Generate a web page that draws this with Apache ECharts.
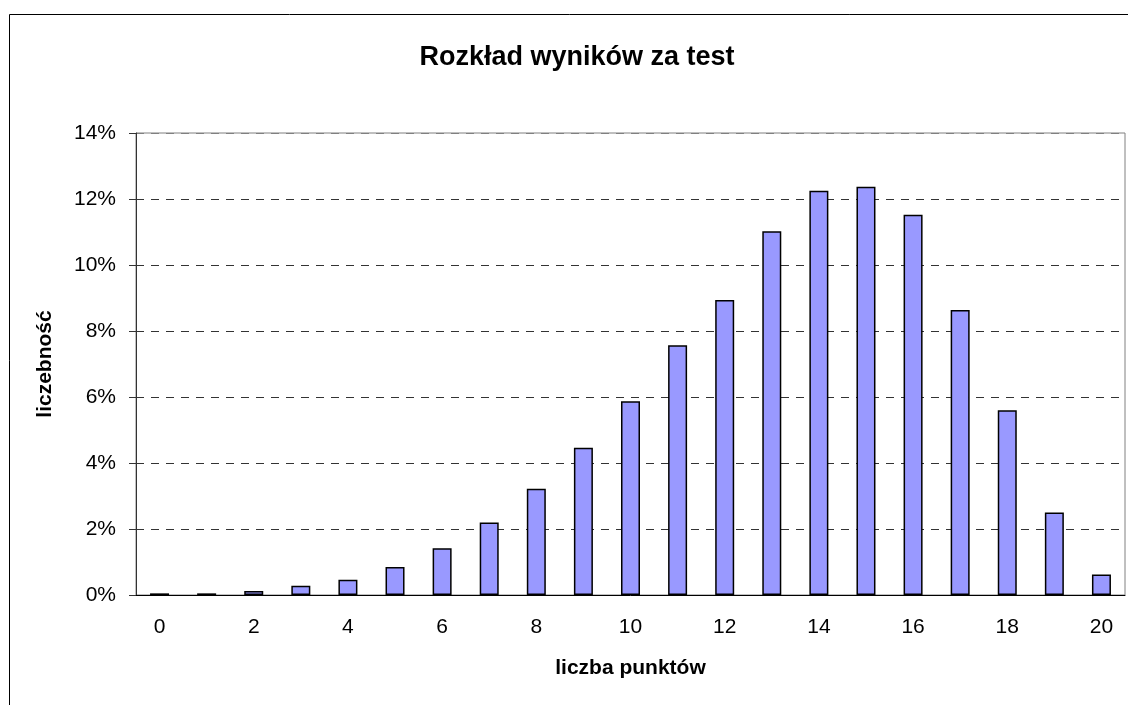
<!DOCTYPE html>
<html lang="pl">
<head>
<meta charset="UTF-8">
<title>Rozkład wyników za test</title>
<script src="https://cdn.jsdelivr.net/npm/echarts@6/dist/echarts.min.js"></script>
<style>
  html, body { margin: 0; padding: 0; background: #fff; }
  #chart { width: 1128px; height: 705px; }
</style>
</head>
<body>
<div id="chart"></div>
<script>
// liczba punktów 0..20
var points = ['0','1','2','3','4','5','6','7','8','9','10','11','12','13','14','15','16','17','18','19','20'];
// liczebność w %
var share = [0.05, 0.05, 0.12, 0.28, 0.46, 0.85, 1.42, 2.2, 3.22, 4.46, 5.87, 7.57, 8.94, 11.02, 12.25, 12.37, 11.52, 8.64, 5.6, 2.5, 0.62];
var yTicks = [0, 2, 4, 6, 8, 10, 12, 14];

var font = 'Liberation Sans, Arial, sans-serif';
var myChart = echarts.init(document.getElementById('chart'));

var option = {
  animation: false,
  title: {
    text: 'Rozkład wyników za test',
    left: 572,
    textAlign: 'center',
    top: 39,
    textStyle: { fontFamily: font, fontSize: 27, fontWeight: 'bold', color: '#000' }
  },
  graphic: [{
    // ramka wykresu
    type: 'rect',
    shape: { x: 9.5, y: 14.5, width: 1130, height: 700 },
    style: { fill: null, stroke: '#000', lineWidth: 1 },
    silent: true
  }],
  grid: {
    left: 136, top: 133, right: 3, bottom: 110,
    show: true, borderColor: '#808080', borderWidth: 1, backgroundColor: '#fff'
  },
  xAxis: {
    type: 'category',
    data: points,
    name: 'liczba punktów',
    nameLocation: 'middle',
    nameGap: 63,
    nameTextStyle: { fontFamily: font, fontSize: 21, fontWeight: 'bold', color: '#000' },
    axisLine: { lineStyle: { color: '#000', width: 1 } },
    axisTick: { interval: 0, length: 6, lineStyle: { color: '#000' } },
    axisLabel: { interval: 1, margin: 22, fontFamily: font, fontSize: 21, color: '#000' }
  },
  yAxis: {
    type: 'value',
    min: yTicks[0],
    max: yTicks[yTicks.length - 1],
    interval: 2,
    name: 'liczebność',
    nameLocation: 'middle',
    nameGap: 80,
    nameRotate: 90,
    nameTextStyle: { fontFamily: font, fontSize: 21, fontWeight: 'bold', color: '#000' },
    axisLine: { show: true, lineStyle: { color: '#333', width: 1 } },
    axisTick: { show: true, length: 7, lineStyle: { color: '#333' } },
    axisLabel: { margin: 20, fontFamily: font, fontSize: 21, color: '#000', formatter: '{value}%' },
    splitLine: {
      show: true,
      lineStyle: {
        type: [8, 7],
        width: 1,
        color: ['#000', '#333', '#333', '#333', '#333', '#333', '#333', '#808080']
      }
    }
  },
  series: [{
    type: 'bar',
    data: share,
    barWidth: 19,
    silent: true,
    itemStyle: { color: '#9999ff', borderColor: '#000', borderWidth: 1.5 }
  }]
};

myChart.setOption(option);
</script>
</body>
</html>
